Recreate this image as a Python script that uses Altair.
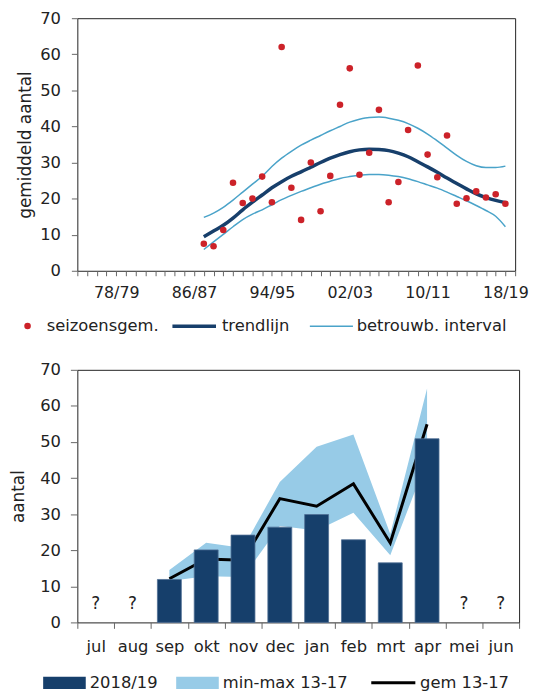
import json
import altair as alt
import pandas as pd

FONT = "DejaVu Sans"
TXT = "#222222"

# ---------------- top chart data ----------------
seasons = ["74/75", "75/76", "76/77", "77/78", "78/79", "79/80", "80/81", "81/82",
           "82/83", "83/84", "84/85", "85/86", "86/87", "87/88", "88/89", "89/90",
           "90/91", "91/92", "92/93", "93/94", "94/95", "95/96", "96/97", "97/98",
           "98/99", "99/00", "00/01", "01/02", "02/03", "03/04", "04/05", "05/06",
           "06/07", "07/08", "08/09", "09/10", "10/11", "11/12", "12/13", "13/14",
           "14/15", "15/16", "16/17", "17/18", "18/19", "19/20"]
label_seasons = ["78/79", "86/87", "94/95", "02/03", "10/11", "18/19"]
point_seasons = seasons[13:45]  # 87/88 .. 18/19

seizoensgem = [7.5, 6.8, 11.3, 24.4, 18.8, 20.0, 26.1, 19.0, 62.0, 23.0, 14.1,
               30.0, 16.5, 26.3, 46.0, 56.1, 26.6, 32.7, 44.6, 19.0, 24.6, 39.0,
               56.9, 32.2, 25.9, 37.5, 18.6, 20.1, 22.0, 20.3, 21.2, 18.6]
trendlijn = [9.4, 11.0, 12.6, 14.6, 16.9, 19.0, 21.0, 23.0, 24.7, 26.2, 27.4,
             28.7, 30.0, 31.2, 32.2, 33.0, 33.5, 33.7, 33.6, 33.3, 32.6, 31.6,
             30.2, 28.8, 27.3, 25.7, 24.2, 22.7, 21.3, 20.3, 19.5, 18.9]
interval_boven = [14.8, 16.0, 17.6, 19.6, 21.8, 24.0, 26.2, 28.9, 31.2, 33.1, 34.8,
                  36.2, 37.5, 38.8, 40.0, 41.2, 42.0, 42.5, 42.6, 42.3, 41.7, 40.8,
                  39.5, 37.9, 36.0, 34.0, 32.0, 30.3, 29.1, 28.6, 28.6, 29.0]
interval_onder = [5.9, 8.0, 10.1, 12.2, 14.2, 15.7, 16.9, 18.3, 19.7, 20.9, 22.0,
                  23.0, 24.0, 24.8, 25.6, 26.1, 26.5, 26.7, 26.7, 26.5, 26.1, 25.5,
                  24.7, 23.8, 22.9, 21.8, 20.6, 19.4, 18.1, 16.7, 15.1, 12.2]
y_ticks = [0, 10, 20, 30, 40, 50, 60, 70]

# ---------------- bottom chart data ----------------
months = ["jul", "aug", "sep", "okt", "nov", "dec", "jan", "feb", "mrt", "apr", "mei", "jun"]
data_months = ["sep", "okt", "nov", "dec", "jan", "feb", "mrt", "apr"]
seizoen_2018 = [11.9, 20.1, 24.2, 26.4, 29.9, 22.9, 16.5, 50.9]
gem_13_17 = [12.1, 17.6, 17.2, 34.3, 32.2, 38.4, 22.0, 54.9]
min_13_17 = [11.5, 12.8, 12.6, 26.7, 25.5, 30.4, 18.6, 45.0]
max_13_17 = [14.5, 22.1, 20.6, 38.9, 48.7, 52.1, 24.5, 64.8]
unknown_months = ["jul", "aug", "mei", "jun"]
unknown_y = [5, 5, 5, 5]

# ---------------- frames ----------------
df_pts = pd.DataFrame({"seizoen": point_seasons, "waarde": seizoensgem, "reeks": "seizoensgem."})
df_trend = pd.DataFrame({"seizoen": point_seasons, "waarde": trendlijn, "reeks": "trendlijn"})
df_band = pd.concat([
    pd.DataFrame({"seizoen": point_seasons, "waarde": interval_boven, "grens": "boven"}),
    pd.DataFrame({"seizoen": point_seasons, "waarde": interval_onder, "grens": "onder"}),
])
df_band["reeks"] = "betrouwb. interval"

df_bar = pd.DataFrame({"maand": data_months, "waarde": seizoen_2018, "reeks": "2018/19"})
df_gem = pd.DataFrame({"maand": data_months, "waarde": gem_13_17, "reeks": "gem 13-17"})
df_mm = pd.DataFrame({"maand": data_months, "laag": min_13_17, "hoog": max_13_17, "reeks": "min-max 13-17"})
df_q = pd.DataFrame({"maand": unknown_months, "waarde": unknown_y, "tekst": "?"})

RECT = "M-1,-0.29H1V0.29H-1Z"


def leg(x, y, stype, ssize, sw, loff):
    return alt.Legend(orient="none", legendX=x, legendY=y, title=None,
                      symbolType=stype, symbolSize=ssize, symbolStrokeWidth=sw,
                      labelOffset=loff, padding=0, labelFont=FONT,
                      labelFontSize=16.5, labelColor=TXT)


label_expr = "indexof(" + json.dumps(label_seasons) + ", datum.value) >= 0 ? datum.value : ''"

X1 = alt.X("seizoen:O",
           scale=alt.Scale(type="point", domain=seasons, padding=0),
           axis=alt.Axis(values=seasons, labelExpr=label_expr, labelAngle=0,
                         labelOverlap=False, tickSize=5, labelPadding=9, labelFontSize=16,
                         domain=False, title=None))
Y1 = alt.Y("waarde:Q", scale=alt.Scale(domain=[0, 70], nice=False),
           axis=alt.Axis(values=y_ticks, title="gemiddeld aantal", tickSize=6,
                         labelPadding=11, titlePadding=5, domain=False, grid=False))

band = alt.Chart(df_band).mark_line(strokeWidth=1.5, interpolate="monotone").encode(
    x=X1, y=Y1, detail="grens:N",
    color=alt.Color("reeks:N", scale=alt.Scale(domain=["betrouwb. interval"], range=["#4AA3C9"]),
                    legend=leg(234, 288.5, "stroke", 1892, 1.5, 3)))
trend = alt.Chart(df_trend).mark_line(strokeWidth=3.5, interpolate="monotone").encode(
    x=X1, y=Y1,
    color=alt.Color("reeks:N", scale=alt.Scale(domain=["trendlijn"], range=["#173F6B"]),
                    legend=leg(94, 287, "stroke", 1936, 3.5, 4)))
pts = alt.Chart(df_pts).mark_circle(size=44, opacity=1).encode(
    x=X1, y=Y1,
    color=alt.Color("reeks:N", scale=alt.Scale(domain=["seizoensgem."], range=["#CC2229"]),
                    legend=leg(-58.5, 302.5, "circle", 44, 0, 11)))

top = alt.layer(band, trend, pts).resolve_scale(color="independent").properties(width=442, height=255)

X2 = alt.X("maand:N", scale=alt.Scale(domain=months, paddingInner=0, paddingOuter=0),
           axis=alt.Axis(tickBand="extent", labelAngle=0, tickSize=6, labelPadding=10,
                         domain=False, title=None))
Y2ax = alt.Axis(values=y_ticks, title="aantal", tickSize=7, labelPadding=10,
                titlePadding=12.6, domain=False, grid=False)
Y2scale = alt.Scale(domain=[0, 70], nice=False)

area = alt.Chart(df_mm).mark_area(opacity=1).encode(
    x=X2, y=alt.Y("laag:Q", scale=Y2scale, axis=Y2ax), y2="hoog:Q",
    color=alt.Color("reeks:N", scale=alt.Scale(domain=["min-max 13-17"], range=["#97CBE7"]),
                    legend=leg(99.8, 294.5, RECT, 1849, 0, 4)))
gem = alt.Chart(df_gem).mark_line(strokeWidth=3).encode(
    x=X2, y=alt.Y("waarde:Q", scale=Y2scale, axis=Y2ax),
    color=alt.Color("reeks:N", scale=alt.Scale(domain=["gem 13-17"], range=["#000000"]),
                    legend=leg(295, 292, "stroke", 1980, 3, 3)))
bars = alt.Chart(df_bar).mark_bar(width=alt.RelativeBandSize(0.65), stroke="#4F6F95", strokeWidth=0.8).encode(
    x=X2, y=alt.Y("waarde:Q", scale=Y2scale, axis=Y2ax),
    color=alt.Color("reeks:N", scale=alt.Scale(domain=["2018/19"], range=["#163F6B"]),
                    legend=leg(-34.5, 294.5, RECT, 1849, 0, 4)))
qs = alt.Chart(df_q).mark_text(font=FONT, fontSize=17, color=TXT).encode(
    x=X2, y=alt.Y("waarde:Q", scale=Y2scale, axis=Y2ax), text="tekst:N")

bottom = alt.layer(area, gem, bars, qs).resolve_scale(color="independent").properties(width=446, height=255)

chart = alt.ConcatChart(concat=[top, bottom], columns=1, align="none", spacing=25,
                        padding={"left": 0, "top": -2, "right": 0, "bottom": 0}).configure_view(
    stroke="#222222", strokeWidth=1
).configure_axis(
    labelFont=FONT, labelFontSize=16.5, labelColor=TXT,
    titleFont=FONT, titleFontSize=17, titleFontWeight="normal", titleColor=TXT,
    tickColor="#666666", tickWidth=1
)

chart.save("out.html", embed_options={"renderer": "svg", "actions": False})
